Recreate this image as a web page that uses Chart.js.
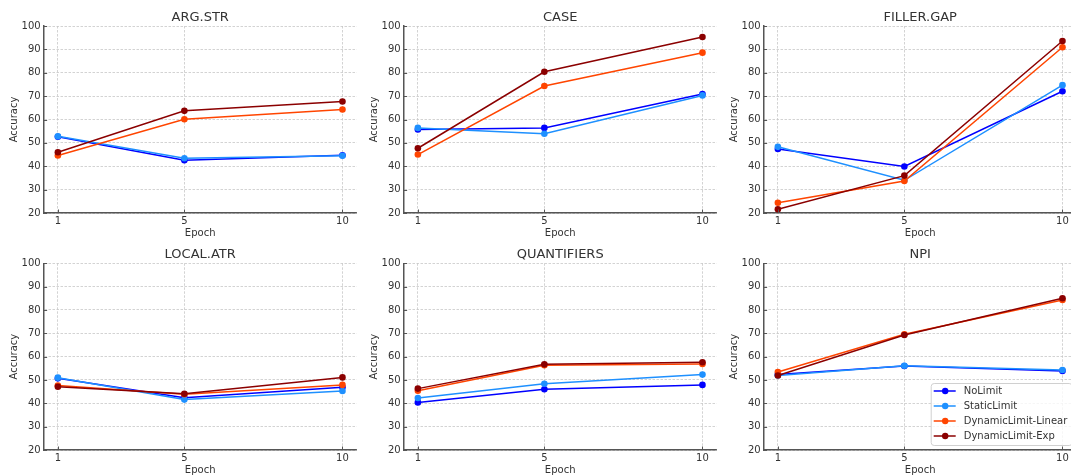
<!DOCTYPE html>
<html><head><meta charset="utf-8">
<script src="https://cdn.jsdelivr.net/npm/chart.js@4.4.1/dist/chart.umd.min.js"></script>
<style>
html,body{margin:0;padding:0;background:#fff}
body{width:1071px;height:475px;overflow:hidden;position:relative}
canvas{position:absolute}
</style>
</head><body>
<script>
// ---- data ----
const epochs = [1, 5, 10];
const xTicks = [1, 5, 10];
const yTicks = [20, 30, 40, 50, 60, 70, 80, 90, 100];
const seriesNames = ['NoLimit', 'StaticLimit', 'DynamicLimit-Linear', 'DynamicLimit-Exp'];
const taskTitles = ['ARG.STR', 'CASE', 'FILLER.GAP', 'LOCAL.ATR', 'QUANTIFIERS', 'NPI'];
// rows: NoLimit, StaticLimit, DynamicLimit-Linear, DynamicLimit-Exp ; cols: epochs
const argStrValues      = [[52.6,42.6,44.7],[52.8,43.4,44.5],[44.6,60.1,64.3],[46.0,63.7,67.7]];
const caseValues        = [[55.7,56.4,70.9],[56.4,53.9,70.3],[45.0,74.3,88.6],[47.7,80.4,95.3]];
const fillerGapValues   = [[47.4,39.9,72.1],[48.3,34.0,74.7],[24.4,33.7,90.9],[21.6,36.0,93.6]];
const localAtrValues    = [[50.7,42.4,46.9],[51.0,41.6,45.3],[47.6,43.9,47.9],[47.1,44.1,51.1]];
const quantifiersValues = [[40.4,46.0,47.9],[42.3,48.4,52.3],[45.4,56.3,56.9],[46.3,56.7,57.6]];
const npiValues         = [[52.4,56.0,53.9],[51.9,56.1,54.3],[53.4,69.6,84.3],[51.9,69.3,85.0]];
const taskValues = [argStrValues, caseValues, fillerGapValues, localAtrValues, quantifiersValues, npiValues];

// ---- style ----
const seriesColors = ['#0000ff', '#1e90ff', '#ff4500', '#8b0000'];
const FONT = "'DejaVu Sans', sans-serif";
const TEXT = '#333333';
const SPINE = '#555555';
const GRID = '#c8c8c8';

const innerTicks = {
  id: 'innerTicks',
  afterDatasetsDraw(chart) {
    const {ctx, chartArea: a, scales: {x, y}} = chart;
    ctx.save();
    ctx.strokeStyle = SPINE; ctx.lineWidth = 1;
    ctx.beginPath();
    yTicks.forEach(v => { const py = Math.round(y.getPixelForValue(v)) + 0.5; ctx.moveTo(a.left, py); ctx.lineTo(a.left + 3.5, py); });
    xTicks.forEach(v => { const px = Math.round(x.getPixelForValue(v)) + 0.5; ctx.moveTo(px, a.bottom); ctx.lineTo(px, a.bottom - 3.5); });
    ctx.stroke();
    ctx.restore();
  }
};
const subTitle = {
  id: 'subTitle',
  afterDraw(chart, args, opts) {
    const {ctx, chartArea: a} = chart;
    ctx.save();
    ctx.fillStyle = TEXT; ctx.font = '13px ' + FONT;
    ctx.textAlign = 'center'; ctx.textBaseline = 'alphabetic';
    ctx.fillText(opts.text, (a.left + a.right) / 2, a.top - 5.5);
    ctx.restore();
  }
};
const boxLegend = {
  id: 'boxLegend',
  afterDraw(chart, args, opts) {
    if (!opts.show) return;
    const {ctx, chartArea: a} = chart;
    const w = 141, h = 62;
    const right = a.right - 5, bottom = a.bottom - 5, left = right - w, top = bottom - h;
    ctx.save();
    ctx.beginPath();
    if (ctx.roundRect) ctx.roundRect(left + 0.5, top + 0.5, w, h, 3); else ctx.rect(left + 0.5, top + 0.5, w, h);
    ctx.fillStyle = 'rgba(255,255,255,0.8)'; ctx.fill();
    ctx.strokeStyle = '#d0d0d0'; ctx.lineWidth = 1; ctx.stroke();
    ctx.font = '10px ' + FONT; ctx.textBaseline = 'middle'; ctx.textAlign = 'left';
    chart.data.datasets.forEach((ds, i) => {
      const cy = top + 8 + i * 15;
      ctx.strokeStyle = ds.borderColor; ctx.lineWidth = 1.5;
      ctx.beginPath(); ctx.moveTo(left + 3, cy); ctx.lineTo(left + 25, cy); ctx.stroke();
      ctx.fillStyle = ds.borderColor;
      ctx.beginPath(); ctx.arc(left + 14.5, cy, 3.2, 0, Math.PI * 2); ctx.fill();
      ctx.fillStyle = TEXT; ctx.fillText(ds.label, left + 33, cy + 0.5);
    });
    ctx.restore();
  }
};

const colLeft = [0, 360, 720];
const rowTop = [0, 240];
taskValues.forEach((vals, k) => {
  const col = k % 3, row = Math.floor(k / 3);
  const cv = document.createElement('canvas');
  cv.width = 360; cv.height = 240;
  cv.style.left = colLeft[col] + 'px'; cv.style.top = rowTop[row] + 'px';
  cv.style.width = '360px'; cv.style.height = '240px';
  document.body.appendChild(cv);
  const padTop = row === 0 ? 26 : 23.3;
  const xAxisH = row === 0 ? 27 : 30;
  const epochPad = row === 0 ? 1 : 4;
  new Chart(cv, {
    type: 'line',
    data: {
      datasets: seriesNames.map((name, i) => ({
        label: name,
        data: epochs.map((e, j) => ({x: e, y: vals[i][j]})),
        borderColor: seriesColors[i], backgroundColor: seriesColors[i],
        borderWidth: 1.5, pointRadius: 3.3, pointHoverRadius: 3.3, pointBorderWidth: 0,
        tension: 0, fill: false, order: seriesNames.length - i
      }))
    },
    options: {
      responsive: false, animation: false, devicePixelRatio: 1,
      events: [],
      layout: {padding: {left: 0, right: 0.7, top: padTop, bottom: 0}},
      plugins: {legend: {display: false}, tooltip: {enabled: false}, title: {display: false},
        subTitle: {text: taskTitles[k]}, boxLegend: {show: k === 5}},
      scales: {
        x: {
          type: 'linear', min: 0.55, max: 10.45,
          afterBuildTicks: s => { s.ticks = xTicks.map(v => ({value: v})); },
          afterFit: s => { s.height = xAxisH; },
          grid: {color: GRID, lineWidth: 0.8, drawTicks: false},
          border: {display: true, color: SPINE, width: 1.5, dash: [2.5, 1.5]},
          ticks: {padding: 2.5, color: TEXT, font: {family: FONT, size: 10}, autoSkip: false, maxRotation: 0},
          title: {display: true, text: 'Epoch', color: TEXT, font: {family: FONT, size: 10}, padding: {top: 0, bottom: epochPad}}
        },
        y: {
          type: 'linear', min: 20, max: 100,
          afterBuildTicks: s => { s.ticks = yTicks.map(v => ({value: v})); },
          afterFit: s => { s.width = 43.65; },
          grid: {color: GRID, lineWidth: 0.8, drawTicks: false},
          border: {display: true, color: SPINE, width: 1.5, dash: [2.5, 1.5]},
          ticks: {padding: 3, color: TEXT, font: {family: FONT, size: 10}},
          title: {display: true, text: 'Accuracy', color: TEXT, font: {family: FONT, size: 10}, padding: {top: 8, bottom: 0}}
        }
      }
    },
    plugins: [innerTicks, subTitle, boxLegend]
  });
});
</script>
</body></html>
